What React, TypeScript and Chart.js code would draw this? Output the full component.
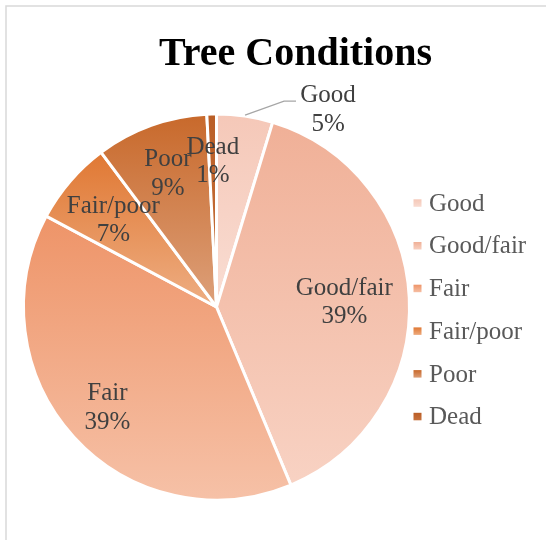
import React, { useEffect, useRef } from "react";
import { Chart, registerables } from "chart.js";

Chart.register(...registerables);

// ---- data ----
const chartTitle = "Tree Conditions";
const categories = ["Good", "Good/fair", "Fair", "Fair/poor", "Poor", "Dead"];
const shares = [4.7, 39.0, 39.1, 7.0, 9.4, 0.8];
const gradientTop = ["#F5C8B8", "#F0B097", "#EE9468", "#E07833", "#C8692B", "#BA5E26"];
const gradientBottom = ["#F9DDD3", "#F8D2C3", "#F6C1A7", "#EEAE83", "#DDA07A", "#C8733E"];

const SERIF = '"Liberation Serif", "Times New Roman", Times, serif';
const BORDER = 3;

function sliceYRange(chart: any, index: number): [number, number] {
  const area = chart.chartArea;
  const values = chart.data.datasets[0].data as number[];
  const total = values.reduce((a, b) => a + b, 0);
  const cy = (area.top + area.bottom) / 2;
  const R = (Math.min(area.right - area.left, area.bottom - area.top) - BORDER) / 2;
  let before = 0;
  for (let i = 0; i < index; i++) before += values[i];
  const a0 = (before / total) * Math.PI * 2;
  const a1 = ((before + values[index]) / total) * Math.PI * 2;
  const ys = [cy, cy - R * Math.cos(a0), cy - R * Math.cos(a1)];
  if (a0 <= 1e-9) ys.push(cy - R);
  if (a0 <= Math.PI && a1 >= Math.PI) ys.push(cy + R);
  return [Math.min(...ys), Math.max(...ys)];
}

const framePlugin = {
  id: "frame",
  beforeDraw(chart: any) {
    const ctx = chart.ctx;
    ctx.save();
    ctx.strokeStyle = "#D9D9D9";
    ctx.lineWidth = 1.5;
    ctx.strokeRect(6, 6, 700, 700);
    ctx.restore();
  },
};

const titlePlugin = {
  id: "customTitle",
  afterDraw(chart: any) {
    const ctx = chart.ctx;
    ctx.save();
    ctx.font = `bold 40px ${SERIF}`;
    ctx.fillStyle = "#000000";
    ctx.textAlign = "center";
    ctx.textBaseline = "alphabetic";
    ctx.fillText(chartTitle, 295.5, 65);
    ctx.restore();
  },
};

const legendPlugin = {
  id: "customLegend",
  afterDraw(chart: any) {
    const ctx = chart.ctx;
    const labels = chart.data.labels as string[];
    ctx.save();
    ctx.font = `25px ${SERIF}`;
    ctx.fillStyle = "#595959";
    ctx.textAlign = "left";
    ctx.textBaseline = "alphabetic";
    labels.forEach((lab, i) => {
      const base = 210.7 + i * 42.7;
      const sy = base - 11.4;
      const g = ctx.createLinearGradient(0, sy, 0, sy + 8);
      g.addColorStop(0, gradientTop[i]);
      g.addColorStop(1, gradientBottom[i]);
      ctx.fillStyle = g;
      ctx.fillRect(413.5, sy, 8, 7.5);
      ctx.fillStyle = "#595959";
      ctx.fillText(lab, 429, base);
    });
    ctx.restore();
  },
};

const sliceLabelPlugin = {
  id: "sliceLabels",
  afterDatasetsDraw(chart: any, _args: any, opts: any) {
    const ctx = chart.ctx;
    const meta = chart.getDatasetMeta(0);
    const values = chart.data.datasets[0].data as number[];
    const labels = chart.data.labels as string[];
    const total = values.reduce((a, b) => a + b, 0);
    ctx.save();
    ctx.font = `25px ${SERIF}`;
    ctx.textAlign = "center";
    ctx.textBaseline = "alphabetic";
    meta.data.forEach((el: any, i: number) => {
      const { x, y, startAngle, endAngle, outerRadius } = el.getProps(
        ["x", "y", "startAngle", "endAngle", "outerRadius"],
        true
      );
      const mid = (startAngle + endAngle) / 2;
      const pct = Math.round((values[i] / total) * 100) + "%";
      const k = opts.radius[i];
      let lx: number;
      let ly: number;
      if (k === "outside") {
        const ex = x + Math.cos(mid) * (outerRadius + 1);
        const ey = y + Math.sin(mid) * (outerRadius + 1);
        const bx = ex + 39;
        const by = ey - 14;
        ctx.strokeStyle = "#A6A6A6";
        ctx.lineWidth = 1.2;
        ctx.beginPath();
        ctx.moveTo(ex, ey);
        ctx.lineTo(bx, by);
        ctx.lineTo(bx + 12, by);
        ctx.stroke();
        lx = bx + 12 + 32;
        ly = by + 6.7;
      } else {
        lx = x + Math.cos(mid) * k * outerRadius;
        ly = y + Math.sin(mid) * k * outerRadius;
      }
      ctx.fillStyle = "#404040";
      ctx.fillText(labels[i], lx, ly - 5.75);
      ctx.fillText(pct, lx, ly + 22.75);
    });
    ctx.restore();
  },
};

export default function App() {
  const canvasRef = useRef<HTMLCanvasElement | null>(null);

  useEffect(() => {
    if (!canvasRef.current) return;
    const chart = new Chart(canvasRef.current, {
      type: "pie",
      data: {
        labels: categories,
        datasets: [
          {
            data: shares,
            backgroundColor: (c: any) => {
              const chart = c.chart;
              const i = c.dataIndex;
              if (!chart.chartArea || i === undefined) return gradientTop[i ?? 0];
              const [y0, y1] = sliceYRange(chart, i);
              const g = chart.ctx.createLinearGradient(0, y0, 0, y1);
              g.addColorStop(0, gradientTop[i]);
              g.addColorStop(1, gradientBottom[i]);
              return g;
            },
            borderColor: "#FFFFFF",
            borderWidth: BORDER,
          },
        ],
      },
      options: {
        animation: false,
        responsive: true,
        maintainAspectRatio: false,
        devicePixelRatio: 1,
        events: [],
        layout: { padding: { left: 22, right: 135, top: 112.5, bottom: 38.5 } },
        plugins: {
          legend: { display: false },
          title: { display: false },
          tooltip: { enabled: false },
          sliceLabels: { radius: ["outside", 0.663, 0.764, 0.705, 0.744, 0.764] },
        } as any,
      },
      plugins: [framePlugin, sliceLabelPlugin, titlePlugin, legendPlugin],
    });
    return () => chart.destroy();
  }, []);

  return (
    <div style={{ position: "absolute", left: 0, top: 0, width: 546, height: 540, background: "#FFFFFF" }}>
      <canvas ref={canvasRef} />
    </div>
  );
}
